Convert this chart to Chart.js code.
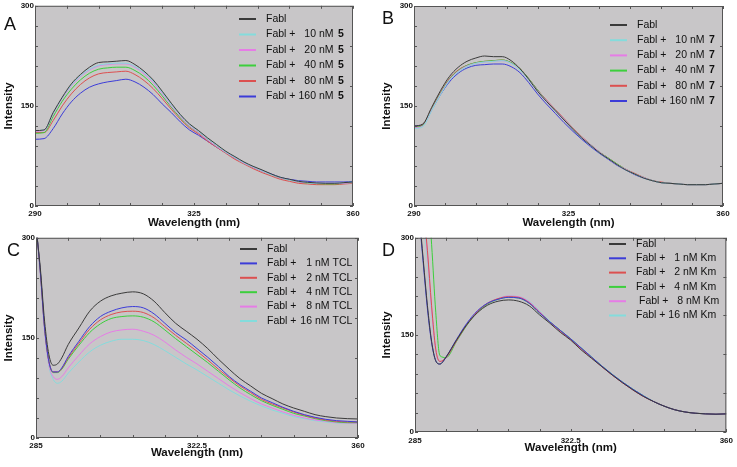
<!DOCTYPE html>
<html>
<head>
<meta charset="utf-8">
<script src="https://cdn.jsdelivr.net/npm/chart.js@4"></script>
<style>
  body { margin: 0; background: #fff; width: 737px; height: 467px; position: relative; overflow: hidden;
         font-family: "Liberation Sans", Arial, sans-serif; }
  canvas { position: absolute; }
  .tag { position: absolute; font-size: 18px; line-height: 18px; color: #111; }
</style>
</head>
<body>
<canvas id="chartA" width="370" height="232" style="left:0;top:0"></canvas>
<canvas id="chartB" width="367" height="232" style="left:370px;top:0"></canvas>
<canvas id="chartC" width="370" height="235" style="left:0;top:232px"></canvas>
<canvas id="chartD" width="367" height="235" style="left:370px;top:232px"></canvas>
<div class="tag" style="left:4px;top:15px">A</div>
<div class="tag" style="left:382px;top:9px">B</div>
<div class="tag" style="left:7px;top:241px">C</div>
<div class="tag" style="left:382px;top:241px">D</div>
<script>
// wavelengths (nm)
const waveAB = [290,292,294,296,298,300,302,304,306,308,310,312,314,316,318,320,322,324,326,328,
                330,332,334,336,338,340,342,344,346,348,350,352,354,356,358,360];
const waveCD = [285,286,287,288,289,290,291,292.5,295,297.5,300,302.5,305,307.5,310,312.5,315,317.5,
                320,322.5,325,327.5,330,332.5,335,337.5,340,342.5,345,347.5,350,352.5,355,357.5,360];

// panel A: FabI + compound 5
const aFabl = [113,114,140,163,183,197,208,215,216,217,218,212,202,189,172,154,137,123,113,102,92,82,74,66,59.5,54,48,43,40,37,35.5,34.5,34,34,35,36];
const a10   = [113,114,139,162,181,195,205,211,213,214,214,209,200,187,170,152,136,122,112,101,91,81,73,65,59,53,47,43,39,37,35,34,34,34,35,36];
const a20   = [112,113,138,161,180,194,204,210,212,213,213,208,198,185,168,150,134,120,110,99,89,80,72,64,58,52,47,42,39,36,35,34,34,34,34,35];
const a40   = [109,110,134,157,175,189,199,205,207,208,208,203,194,181,165,148,132,119,110,99,89,80,72,64,58,52,47,42,39,36,34.5,33.5,33,33,34,35];
const a80   = [110,110,128,150,168,182,192,198,200,201,202,197,188,176,161,145,130,117,108,97,88,79,70,63,56,50,45,40,37,34,33,32,32,32,33,34];
const a160  = [100,101,116,138,156,169,178,183,186,188,190,186,178,167,153,140,126,114,106,97,88,80,72,65,58,53,48,43,40,38,37,36,36,36,36,37];

// panel B: FabI + compound 7
const bFabl = [120,123,148,173,194,208,217,222,225,224,224,218,206,190,172,157,143,129,115,102,91,80,71,62,54,48,42,38,35,34,33,32,32,32,33,34];
const b10   = [116,119,143,167,188,201,209,214,216,217,218,214,204,189,172,157,143,129,115,102,91,80,71,62,54,48,42,38,35,34,33,32,32,32,33,34];
const b20   = [117,120,144,168,189,202,210,214,216,217,218,214,205,190,173,158,144,130,116,103,92,81,71,62,55,48,43,38,35,34,33,32,32,32,33,34];
const b40   = [118,121,145,169,190,203,211,215,217,218,219,215,206,191,174,158,144,130,116,103,92,81,72,63,55,48,43,38,35,34,33,32,32,32,33,34];
const b80   = [119,122,146,170,191,204,211,215,217,218,219,215,206,191,174,159,145,131,117,104,92,81,72,63,55,49,43,38,36,34,33,32,32,32,33,34];
const b160  = [120,122,144,167,186,199,207,211,212,213,213,209,200,185,168,153,139,125,112,100,89,79,70,61,54,47,42,38,35,34,33,32,32,32,33,34];

// panel C: FabI + TCL
const cFabl = [315,255,175,125,109,111,120,140,165,190,205,213,217,219,216,205,188,172,160,148,134,118,103,89,78,67,59,51,45,40,35,32,30,29,28.5];
const c1    = [320,250,165,115,99,99,105,122,145,167,182,190,195,197,195,186,172,158,147,134,121,107,92,80,70,60,53,46,40,35,31,28,26,25,24];
const c2    = [320,250,165,115,99,99,104,120,142,163,177,185,189,190,188,180,167,154,142,130,117,103,90,78,68,58,51,45,39,34,30,27,25,24,24];
const c4    = [320,250,165,115,98,98,103,118,139,158,171,179,182,183,181,174,162,149,137,125,113,100,87,75,65,56,49,43,37,33,29,26,24,23,23];
const c8    = [320,245,160,110,92,88,92,105,124,141,152,159,162,163,160,154,144,132,121,111,100,89,78,68,59,51,45,39,34,30,27,25,23,22.5,22];
const c16   = [320,245,160,108,88,82,85,97,114,129,139,145,148,148,146,140,131,121,111,102,92,82,72,63,55,48,42,37,32,29,26,24,22.5,22,22];

// panel D: FabI + Km
const dFabl = [420,340,265,195,140,110,105,116,142,166,184,196,202,204,202,195,181,168,154,142,127,114,101,88,76,65,55,47,40,34.5,31,29,28,27.5,28];
const d1    = [420,335,260,190,138,110,105,116,143,168,187,199,205,208,207,199,184,170,157,144,130,116,102,89,77,66,56,47,40,34.5,31,29,28,27.5,28];
const d2    = [480,420,350,280,195,128,109,115,141,166,186,199,206,209,208,200,185,170,156,143,129,115,101,88,76,65,55,47,40,34.5,31,29,28,27.5,28];
const d4    = [600,520,450,380,290,185,118,115,140,165,185,198,205,208,207,199,184,170,157,144,130,116,102,89,77,66,56,47,40,34.5,31,29,28,27.5,28];
const d8    = [480,420,345,275,190,126,109,114,140,165,185,198,206,210,209,201,186,170,156,143,129,115,101,88,76,65,55,47,40,34.5,31,29,28,27.5,28];
const d16   = [470,410,335,265,185,124,109,114,140,165,185,198,206,210,209,202,187,171,157,144,130,116,102,89,77,66,56,47,40,34.5,31,29,28,27.5,28];

// legend concentrations and tick labels
const concAB = ['', '10', '20', '40', '80', '160'];
const concCD = ['', '1', '2', '4', '8', '16'];
const xLabelsAB = [290, 325, 360];
const xLabelsCD = [285, 322.5, 360];
const yLabels = [0, 150, 300];

const BLACK = '#3a3a3a', CYAN = '#84dcdc', PINK = '#e67ce6', GREEN = '#3ccf3c', RED = '#dc5050', BLUE = '#3c3cd8';

Chart.defaults.font.family = '"Liberation Sans", Arial, sans-serif';

const framePlugin = {
  id: 'frame',
  beforeDraw(chart) {
    const {ctx, chartArea: a} = chart;
    ctx.save();
    ctx.fillStyle = '#c8c6c8';
    ctx.fillRect(a.left, a.top, a.right - a.left, a.bottom - a.top);
    ctx.restore();
  },
  afterDatasetsDraw(chart) {
    const {ctx, chartArea: a, scales} = chart;
    ctx.save();
    ctx.strokeStyle = '#555';
    ctx.lineWidth = 1;
    ctx.strokeRect(a.left + 0.5, a.top + 0.5, a.right - a.left - 1, a.bottom - a.top - 1);
    ctx.beginPath();
    scales.x.ticks.forEach((t) => {
      const px = Math.round(scales.x.getPixelForValue(t.value)) + 0.5;
      ctx.moveTo(px, a.bottom); ctx.lineTo(px, a.bottom - 3);
      ctx.moveTo(px, a.top); ctx.lineTo(px, a.top + 3);
    });
    scales.y.ticks.forEach((t) => {
      const py = Math.round(scales.y.getPixelForValue(t.value)) + 0.5;
      ctx.moveTo(a.left, py); ctx.lineTo(a.left + 3, py);
      if (t.value % 60 === 0) { ctx.moveTo(a.right, py); ctx.lineTo(a.right - 3, py); }
    });
    ctx.stroke();
    ctx.restore();
  },
  // legend drawn inside the plot, with the bold compound number
  afterDraw(chart, args, opts) {
    const ctx = chart.ctx;
    ctx.save();
    ctx.textBaseline = 'middle';
    ctx.fillStyle = '#111';
    chart.data.datasets.forEach((ds, i) => {
      const y = opts.y + i * opts.gap;
      const tx = opts.x + (opts.shift ? opts.shift[i] : 0);
      ctx.strokeStyle = ds.borderColor;
      ctx.lineWidth = 2;
      ctx.beginPath();
      ctx.moveTo(opts.x - 27, y); ctx.lineTo(opts.x - 10, y);
      ctx.stroke();
      ctx.font = '10.5px "Liberation Sans", Arial, sans-serif';
      ctx.textAlign = 'left';
      if (!ds.conc) { ctx.fillText('Fabl', tx, y); return; }
      ctx.fillText('Fabl +', tx, y);
      ctx.textAlign = 'right';
      ctx.fillText(ds.conc, tx + opts.numRight, y);
      ctx.textAlign = 'left';
      ctx.fillText(opts.unit, tx + opts.numRight + 3, y);
      if (opts.tag) {
        ctx.font = 'bold 10.5px "Liberation Sans", Arial, sans-serif';
        ctx.fillText(opts.tag, tx + opts.tagX, y);
      }
    });
    ctx.restore();
  }
};

const makePanel = (id, p) => new Chart(document.getElementById(id), {
  type: 'line',
  data: {
    datasets: p.series.map((vals, i) => ({
      label: p.conc[i] ? 'Fabl + ' + p.conc[i] + ' ' + p.legend.unit : 'Fabl',
      conc: p.conc[i],
      data: vals.map((v, j) => ({x: p.wave[j], y: v})),
      borderColor: p.colors[i],
      borderWidth: 1,
      pointRadius: 0,
      fill: false,
      cubicInterpolationMode: 'monotone',
    })),
  },
  options: {
    responsive: false,
    animation: false,
    events: [],
    layout: {padding: {left: 0, top: p.padTop, right: p.padRight, bottom: 0}},
    plugins: {
      legend: {display: false},
      tooltip: {enabled: false},
      frame: p.legend,
    },
    scales: {
      x: {
        type: 'linear',
        min: p.wave[0],
        max: 360,
        grid: {display: false, drawTicks: false},
        border: {display: false},
        ticks: {
          stepSize: p.xStep, autoSkip: false, maxRotation: 0, padding: p.xTickPad, color: '#111',
          font: {size: 8, weight: 'bold'},
          callback: (v) => (p.xLabels.includes(v) ? v : ''),
        },
        title: {display: true, text: 'Wavelength (nm)', color: '#111',
                font: {size: 11.5, weight: 'bold'}, padding: {top: 0, bottom: p.xTitlePad}},
        afterFit: (s) => { s.height = p.xAxisH; },
      },
      y: {
        min: 0,
        max: 300,
        grid: {display: false, drawTicks: false},
        border: {display: false},
        ticks: {
          stepSize: 30, autoSkip: false, padding: 1, color: '#111',
          font: {size: 8, weight: 'bold'},
          callback: (v) => (yLabels.includes(v) ? v : ''),
        },
        title: {display: true, text: 'Intensity', color: '#111',
                font: {size: 11.5, weight: 'bold'}, padding: {top: p.yTitlePad, bottom: 0}},
        afterFit: (s) => { s.width = p.yAxisW; },
      },
    },
  },
  plugins: [framePlugin],
});

makePanel('chartA', {
  wave: waveAB, series: [aFabl, a10, a20, a40, a80, a160], conc: concAB,
  colors: [BLACK, CYAN, PINK, GREEN, RED, BLUE],
  xStep: 7, xLabels: xLabelsAB, padTop: 5, padRight: 17, yAxisW: 35, xAxisH: 26,
  xTickPad: 3, xTitlePad: 2.5, yTitlePad: 2,
  legend: {x: 266, y: 19, gap: 15.5, numRight: 50, unit: 'nM', tag: '5', tagX: 72},
});
makePanel('chartB', {
  wave: waveAB, series: [bFabl, b10, b20, b40, b80, b160], conc: concAB,
  colors: [BLACK, CYAN, PINK, GREEN, RED, BLUE],
  xStep: 7, xLabels: xLabelsAB, padTop: 6, padRight: 14, yAxisW: 44, xAxisH: 26,
  xTickPad: 3, xTitlePad: 2.5, yTitlePad: 10,
  legend: {x: 267, y: 25, gap: 15.2, numRight: 50, unit: 'nM', tag: '7', tagX: 72},
});
makePanel('chartC', {
  wave: waveCD, series: [cFabl, c1, c2, c4, c8, c16], conc: concCD,
  colors: [BLACK, BLUE, RED, GREEN, PINK, CYAN],
  xStep: 7.5, xLabels: xLabelsCD, padTop: 5, padRight: 12, yAxisW: 36, xAxisH: 29,
  xTickPad: 3, xTitlePad: 7, yTitlePad: 2,
  legend: {x: 267, y: 17, gap: 14.4, numRight: 45, unit: 'nM TCL', tag: ''},
});
makePanel('chartD', {
  wave: waveCD, series: [dFabl, d1, d2, d4, d8, d16], conc: concCD,
  colors: [BLACK, BLUE, RED, GREEN, PINK, CYAN],
  xStep: 7.5, xLabels: xLabelsCD, padTop: 5, padRight: 9, yAxisW: 45, xAxisH: 35,
  xTickPad: 4, xTitlePad: 12, yTitlePad: 10,
  legend: {x: 266, y: 12, gap: 14.3, numRight: 44, unit: 'nM Km', tag: '', shift: [0, 0, 0, 0, 3, 0]},
});
</script>
</body>
</html>
